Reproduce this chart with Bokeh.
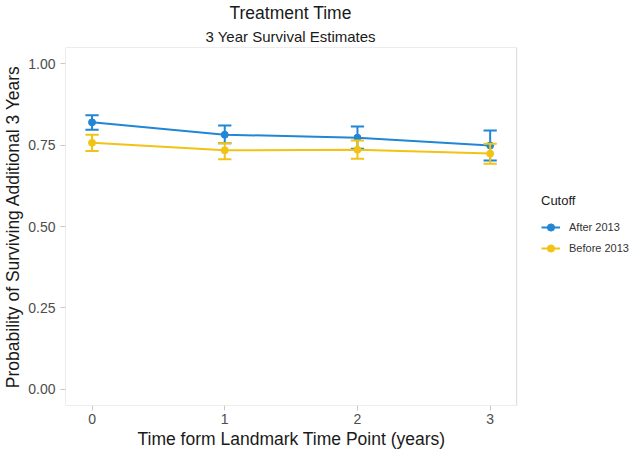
import numpy as np
from bokeh.plotting import figure
from bokeh.models import Title, Legend, LegendItem, FixedTicker, Range1d, BoxAnnotation
from bokeh.embed import file_html
from bokeh.resources import INLINE

# ---- data ----
time_points = [0, 1, 2, 3]
after_est = [0.820, 0.782, 0.773, 0.749]
after_lo = [0.797, 0.756, 0.739, 0.703]
after_hi = [0.842, 0.810, 0.807, 0.795]
before_est = [0.757, 0.734, 0.736, 0.724]
before_lo = [0.732, 0.707, 0.708, 0.693]
before_hi = [0.782, 0.756, 0.764, 0.754]
series_names = ["After 2013", "Before 2013"]
y_ticks = [0.0, 0.25, 0.5, 0.75, 1.0]
y_tick_labels = ["0.00", "0.25", "0.50", "0.75", "1.00"]
x_ticks = [0, 1, 2, 3]

BLUE = "#2186D4"
YELLOW = "#F2C315"
FONT = "Liberation Sans"
CAP = 0.1

# layout (pixels)
W, H = 631, 452
LEFT, TOP, BOTTOM = 64, 47, 47
PANEL_W = 452                      # visible data panel width
X_LO, X_HI = -0.2, 3.2             # visible panel x extent
Y_LO, Y_HI = -0.05, 1.05
frame_w = W - LEFT
px_per_unit = PANEL_W / (X_HI - X_LO)
x_end = X_LO + frame_w / px_per_unit   # frame extends under the legend area

p = figure(width=W, height=H, output_backend="svg", toolbar_location=None,
           title=None, x_range=Range1d(X_LO, x_end), y_range=Range1d(Y_LO, Y_HI),
           min_border_left=LEFT, min_border_right=0, min_border_top=TOP,
           min_border_bottom=BOTTOM)

p.add_layout(Title(text="3 Year Survival Estimates", align="left", text_font=FONT,
                   text_font_size="15px", text_font_style="normal", text_color="#1a1a1a",
                   standoff=6, offset=140), "above")
p.add_layout(Title(text="Treatment Time", align="left", text_font=FONT,
                   text_font_size="17.5px", text_font_style="normal", text_color="#1a1a1a",
                   standoff=0, offset=164), "above")
p.add_layout(Title(text="Time form Landmark Time Point (years)", align="left", text_font=FONT,
                   text_font_size="17.5px", text_font_style="normal", text_color="#1a1a1a",
                   standoff=0, offset=72), "below")

p.background_fill_color = "white"
p.border_fill_color = "white"
p.outline_line_color = None
p.xgrid.visible = False
p.ygrid.visible = False

# panel border
p.add_layout(BoxAnnotation(left=X_LO, right=X_HI, bottom=Y_LO, top=Y_HI,
                           fill_color=None, fill_alpha=0, line_color="#d9d9d9",
                           line_width=1, line_alpha=1))

for ax in (p.xaxis[0], p.yaxis[0]):
    ax.axis_line_color = None
    ax.major_tick_line_color = "#c8c8c8"
    ax.major_tick_in = 0
    ax.major_tick_out = 5
    ax.minor_tick_line_color = None
    ax.major_label_text_font = FONT
    ax.major_label_text_font_size = "14px"
    ax.major_label_text_color = "#4d4d4d"
    ax.axis_label_text_font = FONT
    ax.axis_label_text_font_style = "normal"
    ax.axis_label_text_color = "#1a1a1a"
    ax.axis_label_text_font_size = "17.5px"

p.xaxis[0].major_label_standoff = 3
p.yaxis[0].major_label_standoff = 5
p.yaxis[0].axis_label_standoff = 2
p.xaxis[0].ticker = FixedTicker(ticks=x_ticks)
p.yaxis[0].ticker = FixedTicker(ticks=y_ticks)
p.yaxis[0].major_label_overrides = {t: l for t, l in zip(y_ticks, y_tick_labels)}
p.xaxis[0].axis_label = None
p.yaxis[0].axis_label = "Probability of Surviving Additional 3 Years"

items = []
for name, est, lo, hi, col in [(series_names[0], after_est, after_lo, after_hi, BLUE),
                               (series_names[1], before_est, before_lo, before_hi, YELLOW)]:
    x = np.array(time_points, dtype=float)
    lo = np.array(lo); hi = np.array(hi)
    ln = p.line(x, est, line_color=col, line_width=2)
    p.segment(x, lo, x, hi, line_color=col, line_width=2)
    p.segment(x - CAP / 2, hi, x + CAP / 2, hi, line_color=col, line_width=2)
    p.segment(x - CAP / 2, lo, x + CAP / 2, lo, line_color=col, line_width=2)
    pt = p.scatter(x, est, size=7, fill_color=col, line_color=col)
    items.append(LegendItem(label=name, renderers=[ln, pt]))

legend = Legend(items=items, title="Cutoff", location=(476, 148),
                border_line_color=None, background_fill_alpha=0,
                padding=0, margin=0, spacing=3,
                glyph_width=19, glyph_height=18, label_height=18,
                label_standoff=9, label_text_font=FONT, label_text_font_size="11px",
                label_text_color="#333333",
                title_text_font=FONT, title_text_font_size="13px",
                title_text_font_style="normal", title_text_color="#1a1a1a",
                title_standoff=10)
p.add_layout(legend, "center")

open("out.html", "w").write(file_html(p, INLINE))
